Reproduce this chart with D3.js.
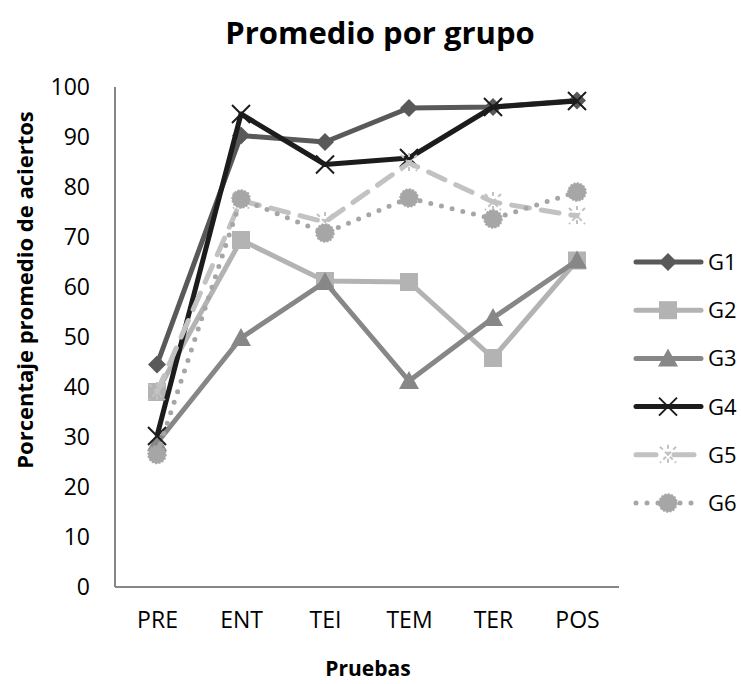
<!DOCTYPE html>
<meta charset="utf-8">
<head>
  <title>Promedio por grupo</title>
</head>
<style>
body { margin: 0; background: #fff; }
text { font-family: "Open Sans", sans-serif; fill: #000; }
</style>
<body>
<svg id="chart" width="741" height="684"></svg>
<script src="https://cdnjs.cloudflare.com/ajax/libs/d3/7.8.5/d3.min.js"></script>
<script>

// chart values
var pruebas = ["PRE", "ENT", "TEI", "TEM", "TER", "POS"];
var grupos = ["G1", "G2", "G3", "G4", "G5", "G6"];
var g1 = [44.5, 90.3, 89, 95.8, 96, 97.3];
var g2 = [39, 69.4, 61.2, 61, 45.8, 65.3];
var g3 = [28.8, 49.8, 61, 41.2, 53.8, 65.3];
var g4 = [30.2, 94.6, 84.5, 85.8, 96, 97.2];
var g5 = [39, 77.3, 73, 84.8, 77, 74.2];
var g6 = [26.5, 77.6, 70.8, 77.8, 73.6, 79];
var yTicks = [0, 10, 20, 30, 40, 50, 60, 70, 80, 90, 100];

var seriesValues = [g1, g2, g3, g4, g5, g6];

// look of each group: colour, dash, marker
var styles = [
  {color: "#595959", dash: null,   marker: "diamond"},
  {color: "#b3b3b3", dash: null,   marker: "square"},
  {color: "#878787", dash: null,   marker: "triangle"},
  {color: "#1c1c1c", dash: null,   marker: "x"},
  {color: "#c2c2c2", dash: "18,12", marker: "star"},
  {color: "#a6a6a6", dash: "0,11", marker: "circle"}
];

function chart() {
  var svg = d3.select("#chart");
  var plotLeft = 115, plotRight = 619, plotTop = 87, plotBottom = 587;

  var x = d3.scalePoint().domain(pruebas).range([plotLeft, plotRight]).padding(0.5);
  var y = d3.scaleLinear().domain([0, 100]).range([plotBottom, plotTop]);

  // title
  svg.append("text")
    .attr("x", 380).attr("y", 44)
    .attr("text-anchor", "middle")
    .style("font-size", "31px").style("font-weight", "bold")
    .text("Promedio por grupo");

  // axes
  var yAxis = svg.append("g").attr("transform", "translate(" + plotLeft + ",0)")
    .call(d3.axisLeft(y).tickValues(yTicks).tickSize(0).tickPadding(25));
  var xAxis = svg.append("g").attr("transform", "translate(0," + plotBottom + ")")
    .call(d3.axisBottom(x).tickSize(0).tickPadding(25));
  [yAxis, xAxis].forEach(function(a){
    a.select(".domain").attr("stroke", "#868686").attr("stroke-width", 2);
    a.selectAll("text").style("font-size", "23px").attr("fill", "#000")
      .style("font-family", "'Open Sans', sans-serif");
  });
  xAxis.select(".domain").attr("d", "M" + plotLeft + ",0H" + plotRight);
  yAxis.select(".domain").attr("d", "M0," + plotTop + "V" + plotBottom);

  svg.append("text")
    .attr("transform", "translate(33,290) rotate(-90)")
    .attr("text-anchor", "middle")
    .style("font-size", "22px").style("font-weight", "bold")
    .text("Porcentaje promedio de aciertos");

  svg.append("text")
    .attr("x", 368).attr("y", 676)
    .attr("text-anchor", "middle")
    .style("font-size", "21px").style("font-weight", "bold")
    .text("Pruebas");

  // markers
  function drawMarker(g, type, color, cx, cy) {
    if (type === "diamond") {
      g.append("path").attr("d", "M" + cx + "," + (cy - 9) + "L" + (cx + 9) + "," + cy +
        "L" + cx + "," + (cy + 9) + "L" + (cx - 9) + "," + cy + "Z").attr("fill", color);
    } else if (type === "square") {
      g.append("rect").attr("x", cx - 9).attr("y", cy - 9).attr("width", 18).attr("height", 18)
        .attr("fill", color);
    } else if (type === "triangle") {
      g.append("path").attr("d", "M" + cx + "," + (cy - 10) + "L" + (cx + 10) + "," + (cy + 8) +
        "L" + (cx - 10) + "," + (cy + 8) + "Z").attr("fill", color);
    } else if (type === "x") {
      g.append("path").attr("d", "M" + (cx - 9) + "," + (cy - 9) + "L" + (cx + 9) + "," + (cy + 9) +
        "M" + (cx + 9) + "," + (cy - 9) + "L" + (cx - 9) + "," + (cy + 9))
        .attr("stroke", "#1c1c1c").attr("stroke-width", 2).attr("fill", "none");
    } else if (type === "star") {
      g.append("path").attr("d", "M" + (cx - 8) + "," + (cy - 8) + "L" + (cx + 8) + "," + (cy + 8) +
        "M" + (cx + 8) + "," + (cy - 8) + "L" + (cx - 8) + "," + (cy + 8) +
        "M" + cx + "," + (cy - 10) + "L" + cx + "," + (cy + 10))
        .attr("stroke", color).attr("stroke-width", 2).attr("stroke-dasharray", "4,3").attr("fill", "none");
    } else if (type === "circle") {
      g.append("circle").attr("cx", cx).attr("cy", cy).attr("r", 9).attr("fill", color)
        .attr("stroke", color).attr("stroke-width", 1.5).attr("stroke-dasharray", "2,1.5");
    }
  }

  var line = d3.line()
    .x(function(d, i){ return x(pruebas[i]); })
    .y(function(d){ return y(d); });

  seriesValues.forEach(function(vals, s){
    var st = styles[s];
    var g = svg.append("g").attr("class", "serie");
    g.append("path").datum(vals)
      .attr("d", line)
      .attr("fill", "none")
      .attr("stroke", st.color)
      .attr("stroke-width", 5)
      .attr("stroke-linecap", st.dash ? "round" : "butt")
      .attr("stroke-linejoin", "round")
      .attr("stroke-dasharray", st.dash);
    vals.forEach(function(v, i){
      drawMarker(g, st.marker, st.color, x(pruebas[i]), y(v));
    });
  });

  // legend
  var legY = d3.scalePoint().domain(grupos).range([262, 503]);
  grupos.forEach(function(name, s){
    var st = styles[s];
    var ly = legY(name);
    var lg = svg.append("g").attr("class", "legend");
    lg.append("line").attr("x1", 636).attr("x2", 701).attr("y1", ly).attr("y2", ly)
      .attr("stroke", st.color).attr("stroke-width", 5)
      .attr("stroke-linecap", "round")
      .attr("stroke-dasharray", st.dash === "18,12" ? "20,18" : st.dash);
    drawMarker(lg, st.marker, st.color, 668, ly);
    lg.append("text").attr("x", 708).attr("y", ly + 8)
      .style("font-size", "22px").text(name);
  });
}

chart();
</script>
</body>
</html>
